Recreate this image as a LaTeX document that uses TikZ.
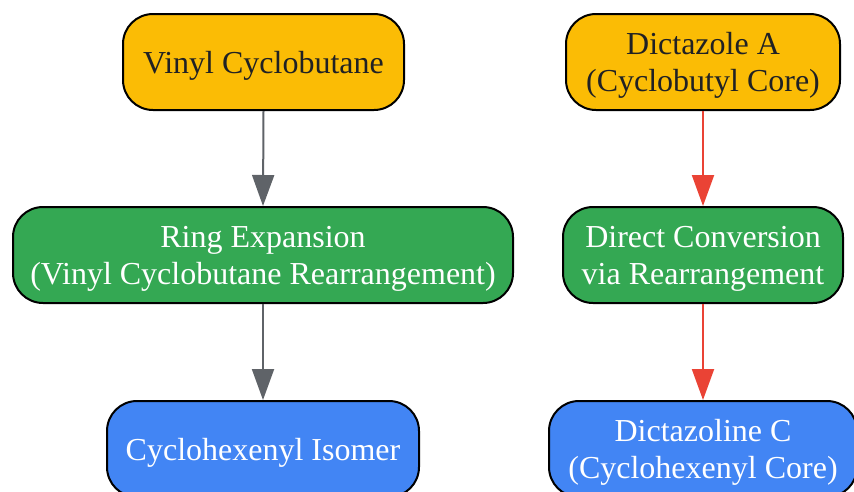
\documentclass[tikz,border=0pt]{standalone}
\usepackage{fontspec}
\setmainfont{Liberation Serif}
\usetikzlibrary{arrows.meta}
\definecolor{cyellow}{HTML}{FBBC05}
\definecolor{cgreen}{HTML}{34A853}
\definecolor{cblue}{HTML}{4285F4}
\definecolor{cgray}{HTML}{5F6368}
\definecolor{cred}{HTML}{EA4335}
\definecolor{cdark}{HTML}{202124}
\newcommand\boxtext[1]{\raisebox{0pt}[\dimexpr\height+4pt\relax][\dimexpr\depth-4pt\relax]{\begin{tabular}{@{}c@{}}#1\end{tabular}}}
\begin{document}
\begin{tikzpicture}[x=1pt,y=-1pt,
  box/.style={draw=black,line width=2pt,rounded corners=30pt,minimum height=96pt,
    align=center,inner sep=0pt,font=\fontsize{32}{37}\selectfont},
  ybox/.style={box,fill=cyellow,text=cdark},
  gbox/.style={box,fill=cgreen,text=white},
  bbox/.style={box,fill=cblue,text=white},
  garrow/.style={draw=cgray,line width=2pt,-{Triangle[width=22pt,length=31pt]},fill=cgray},
  rarrow/.style={draw=cred,line width=2pt,-{Triangle[width=22pt,length=31pt]},fill=cred}]
\useasboundingbox (0,0) rectangle (854,491);
\node[ybox,minimum width=281pt] (vc) at (263.5,62) {\boxtext{Vinyl Cyclobutane}};
\node[ybox,minimum width=274pt] (da) at (703,62) {\boxtext{Dictazole A\\(Cyclobutyl Core)}};
\node[gbox,minimum width=500pt] (re) at (263,255) {\boxtext{Ring Expansion\\(Vinyl Cyclobutane Rearrangement)}};
\node[gbox,minimum width=280pt] (dc) at (703,255) {\boxtext{Direct Conversion\\via Rearrangement}};
\node[bbox,minimum width=312pt] (ci) at (263,449) {\boxtext{Cyclohexenyl Isomer}};
\node[bbox,minimum width=308pt] (dz) at (703,449) {\boxtext{Dictazoline C\\(Cyclohexenyl Core)}};
\draw[garrow] (vc.south) -- (re.north);
\draw[garrow] (re.south) -- (ci.north);
\draw[rarrow] (da.south) -- (dc.north);
\draw[rarrow] (dc.south) -- (dz.north);
\end{tikzpicture}
\end{document}
